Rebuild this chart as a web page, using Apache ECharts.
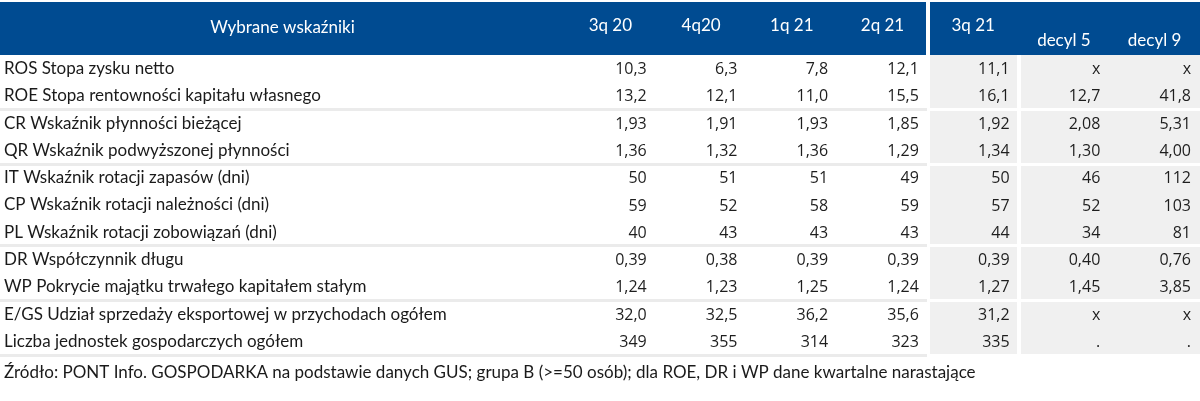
<!DOCTYPE html>
<html>
<head>
<meta charset="utf-8">
<script src="https://cdn.jsdelivr.net/npm/echarts@6/dist/echarts.min.js"></script>
<style>
html, body { margin: 0; padding: 0; background: #ffffff; }
#chart { width: 1200px; height: 401px; }
</style>
</head>
<body>
<div id="chart"></div>
<script>
// ---- data ----
const headerTitle = 'Wybrane wskaźniki';
const periods = ['3q 20', '4q20', '1q 21', '2q 21', '3q 21', 'decyl 5', 'decyl 9'];
const indicators = [
  'ROS Stopa zysku netto',
  'ROE Stopa rentowności kapitału własnego',
  'CR Wskaźnik płynności bieżącej',
  'QR Wskaźnik podwyższonej płynności',
  'IT Wskaźnik rotacji zapasów (dni)',
  'CP Wskaźnik rotacji należności (dni)',
  'PL Wskaźnik rotacji zobowiązań (dni)',
  'DR Współczynnik długu',
  'WP Pokrycie majątku trwałego kapitałem stałym',
  'E/GS Udział sprzedaży eksportowej w przychodach ogółem',
  'Liczba jednostek gospodarczych ogółem'
];
const decimals = [1, 1, 2, 2, 0, 0, 0, 2, 2, 1, 0];
const q3_20  = [10.3, 13.2, 1.93, 1.36, 50, 59, 40, 0.39, 1.24, 32.0, 349];
const q4_20  = [6.3, 12.1, 1.91, 1.32, 51, 52, 43, 0.38, 1.23, 32.5, 355];
const q1_21  = [7.8, 11.0, 1.93, 1.36, 51, 58, 43, 0.39, 1.25, 36.2, 314];
const q2_21  = [12.1, 15.5, 1.85, 1.29, 49, 59, 43, 0.39, 1.24, 35.6, 323];
const q3_21  = [11.1, 16.1, 1.92, 1.34, 50, 57, 44, 0.39, 1.27, 31.2, 335];
const decyl5 = ['x', 12.7, 2.08, 1.30, 46, 52, 34, 0.40, 1.45, 'x', '.'];
const decyl9 = ['x', 41.8, 5.31, 4.00, 112, 103, 81, 0.76, 3.85, 'x', '.'];
const groupEnds = [1, 3, 6, 8, 10];      // rows after which a group separator follows
const shadedFrom = 4;                     // first column with grey background
const headerGapAfter = [3];               // white gaps in the header band
const bodyGapAfter = [3, 4];              // white gaps in the grey body
const sourceNote = 'Źródło: PONT Info. GOSPODARKA na podstawie danych GUS; grupa B (>=50 osób); dla ROE, DR i WP dane kwartalne narastające';

// ---- build cells ----
const columns = [q3_20, q4_20, q1_21, q2_21, q3_21, decyl5, decyl9];
function fmt(v, d) { return typeof v === 'number' ? v.toFixed(d).replace('.', ',') : v; }
const cells = [];
columns.forEach((col, k) => col.forEach((v, r) => cells.push([k, r, fmt(v, decimals[r])])));

const BLUE = '#004b91';
const GREY = '#f0f0f0';
const SEP = '#ebebeb';
const HEADER_H = 53;
const LABEL_FONT = 'Lato';
const LABEL_SIZE = 17;
const NUM_FONT = '"Open Sans"';
const OVERLAP = 1; // avoid anti-aliasing seams between adjacent cells

function renderItem(params, api) {
  const k = api.value(0), r = api.value(1);
  const text = cells[params.dataIndex][2];
  const c = api.coord([k, r]);
  const s = api.size([1, 1]);
  const last = periods.length - 1;
  const x0 = c[0] - s[0] / 2, x1 = c[0] + s[0] / 2;
  const y0 = c[1] - s[1] / 2, y1 = c[1] + s[1] / 2;
  const isEnd = groupEnds.indexOf(r) >= 0;
  const isStart = r > 0 && groupEnds.indexOf(r - 1) >= 0;
  const ch = [];
  if (k >= shadedFrom) {
    const lx = Math.round(x0 + (bodyGapAfter.indexOf(k - 1) >= 0 ? 2.2 : 0));
    const rx = bodyGapAfter.indexOf(k) >= 0 ? Math.round(x1 - 1.8) : (k === last ? x1 : Math.round(x1) + OVERLAP);
    const ty = Math.round(y0 + (isStart ? 1.5 : 0));
    const by = isEnd ? Math.round(y1 - 1.5) : Math.round(y1) + OVERLAP;
    ch.push({ type: 'rect', shape: { x: lx, y: ty, width: rx - lx, height: by - ty }, style: { fill: GREY } });
  } else if (isEnd) {
    const lx = k === 0 ? 0 : Math.round(x0);
    const rx = headerGapAfter.indexOf(k) >= 0 ? Math.round(x1 - 1) : Math.round(x1) + OVERLAP;
    ch.push({ type: 'rect', shape: { x: lx, y: Math.round(y1 - 1.5), width: rx - lx, height: 3 }, style: { fill: SEP } });
  }
  if (r === 0) {
    const lx = k === 0 ? 0 : Math.round(x0 + (headerGapAfter.indexOf(k - 1) >= 0 ? 2 : 0));
    const rx = headerGapAfter.indexOf(k) >= 0 ? Math.round(x1 - 2) : (k === last ? x1 : Math.round(x1) + OVERLAP);
    const top = Math.round(y0) - HEADER_H;
    ch.push({ type: 'rect', shape: { x: lx, y: top, width: rx - lx, height: HEADER_H }, style: { fill: BLUE } });
    if (k === 0) {
      ch.push({ type: 'text', style: { x: x0 / 2, y: y0 - HEADER_H / 2 - 1, text: headerTitle, align: 'center', verticalAlign: 'middle', fill: '#ffffff', fontSize: LABEL_SIZE, fontFamily: LABEL_FONT } });
    }
  }
  ch.push({ type: 'text', style: { x: x1 - 9, y: c[1] + 1, text: text, align: 'right', verticalAlign: 'middle', fill: '#1e1e1e', fontSize: 16, fontFamily: NUM_FONT } });
  return { type: 'group', children: ch };
}

const chart = echarts.init(document.getElementById('chart'), null, { renderer: 'canvas' });
chart.setOption({
  animation: false,
  backgroundColor: '#ffffff',
  grid: { left: 565, right: 0, top: 55, bottom: 46, show: false },
  xAxis: {
    type: 'category', position: 'top', data: periods, z: 10,
    axisLine: { show: false }, axisTick: { show: false }, splitLine: { show: false },
    axisLabel: {
      interval: 0, color: '#ffffff', fontSize: LABEL_SIZE, fontFamily: LABEL_FONT, lineHeight: 15, margin: 7,
      formatter: (v, i) => i >= 5 ? v : v + '\n '
    }
  },
  yAxis: {
    type: 'category', inverse: true, data: indicators,
    axisLine: { show: false }, axisTick: { show: false }, splitLine: { show: false },
    axisLabel: { interval: 0, align: 'left', margin: 561, color: '#1a1a1a', fontSize: LABEL_SIZE, fontFamily: LABEL_FONT }
  },
  graphic: [{
    type: 'text', left: 4, top: 364, z: 20,
    style: { text: sourceNote, fill: '#1a1a1a', fontSize: LABEL_SIZE, fontFamily: LABEL_FONT }
  }],
  series: [{
    type: 'custom', silent: true, clip: false,
    encode: { x: 0, y: 1 },
    data: cells.map(c => [c[0], c[1]]),
    renderItem: renderItem
  }]
});
</script>
</body>
</html>
